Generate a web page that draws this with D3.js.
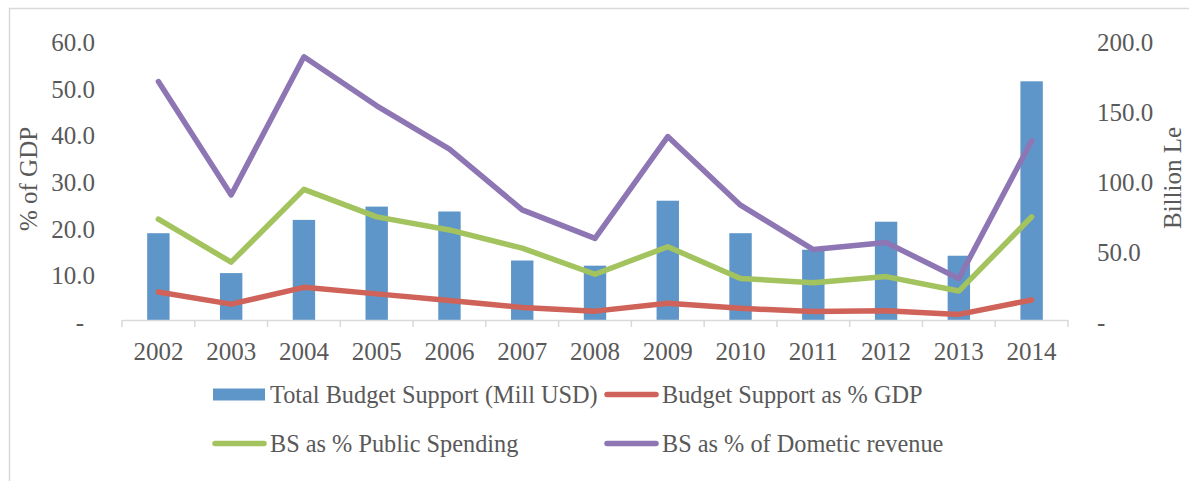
<!DOCTYPE html>
<html><head><meta charset="utf-8">
<script src="https://cdn.jsdelivr.net/npm/d3@7"></script>
<style>
html,body{margin:0;padding:0;background:#fff;}
text{font-family:"Liberation Serif","Times New Roman",serif;fill:#595959;}
</style></head>
<body>
<svg id="chart" width="1189" height="481"></svg>
<script>
const years = ["2002","2003","2004","2005","2006","2007","2008","2009","2010","2011","2012","2013","2014"];
const totalBudgetSupport = [62.0,33.5,71.5,81.0,77.5,42.5,38.8,85.2,62.0,50.2,70.2,45.9,170.5];
const bsPctGDP = [6.0,3.4,7.0,5.6,4.2,2.7,1.9,3.6,2.5,1.8,2.0,1.2,4.3];
const bsPctPublicSpending = [21.6,12.4,28.0,22.1,19.3,15.4,9.8,15.7,8.9,8.0,9.3,6.2,22.1];
const bsPctDomesticRevenue = [51.1,26.8,56.4,45.9,36.6,23.6,17.5,39.3,24.6,15.1,16.6,8.9,38.4];
const leftTicks = [0,10,20,30,40,50,60];
const rightTicks = [0,50,100,150,200];
const legendNames = ["Total Budget Support (Mill USD)","Budget Support as % GDP","BS as % Public Spending","BS as % of Dometic revenue"];

const colors = {bar:"#5f96c9", red:"#cf6359", green:"#a3c35f", purple:"#8d76b3"};
const svg = d3.select("#chart");

// chart border
svg.append("rect").attr("x",9.5).attr("y",8.5).attr("width",1200).attr("height",500)
  .attr("fill","none").attr("stroke","#d9d9d9").attr("stroke-width",1.5);

const x = d3.scaleBand().domain(years).range([122,1068]).padding(0);
const yL = d3.scaleLinear().domain([0,60]).range([320,40]);
const yR = d3.scaleLinear().domain([0,200]).range([320,40]);
const fmt = v => v===0 ? "-" : d3.format(".1f")(v);

// left axis labels
const gl = svg.append("g").attr("transform","translate(95,0)")
  .call(d3.axisLeft(yL).tickValues(leftTicks).tickFormat(fmt).tickSize(0).tickPadding(0));
gl.select(".domain").remove();
gl.selectAll("text").attr("font-size",25).attr("dy","0.38em")
  .attr("x", d => d===0 ? -11 : 0).attr("transform","translate(0,1)");

// right axis labels
const gr = svg.append("g").attr("transform","translate(1097,0)")
  .call(d3.axisRight(yR).tickValues(rightTicks).tickFormat(fmt).tickSize(0).tickPadding(0));
gr.select(".domain").remove();
gr.selectAll("text").attr("font-size",25).attr("dy","0.38em").attr("transform","translate(0,1)");

// bars
const bw = 22.4;
svg.append("g").selectAll("rect").data(totalBudgetSupport).join("rect")
  .attr("x",(d,i)=>x(years[i])+x.bandwidth()/2-bw/2)
  .attr("y",d=>yR(d)).attr("width",bw).attr("height",d=>yR(0)-yR(d))
  .attr("fill",colors.bar);

// x axis
const gx = svg.append("g").attr("transform","translate(0,320)")
  .call(d3.axisBottom(x).tickSize(0).tickPadding(0));
gx.select(".domain").attr("stroke","#d9d9d9").attr("stroke-width",1.5);
gx.selectAll("text").attr("font-size",25).attr("y",40).attr("dy",0);
const bounds = years.map(y=>x(y)).concat([x.range()[1]]);
gx.selectAll(".bt").data(bounds).join("line").attr("class","bt")
  .attr("x1",d=>d).attr("x2",d=>d).attr("y1",0).attr("y2",7)
  .attr("stroke","#d9d9d9").attr("stroke-width",1.5);

// lines
const line = d3.line().x((d,i)=>x(years[i])+x.bandwidth()/2).y(d=>yL(d));
[[bsPctGDP,colors.red],[bsPctPublicSpending,colors.green],[bsPctDomesticRevenue,colors.purple]].forEach(([data,c])=>{
  svg.append("path").datum(data).attr("d",line).attr("fill","none")
    .attr("stroke",c).attr("stroke-width",5.5).attr("stroke-linejoin","round").attr("stroke-linecap","round");
});

// axis titles
svg.append("text").attr("transform","translate(37,179) rotate(-90)").attr("text-anchor","middle")
  .attr("font-size",25).text("% of GDP");
svg.append("text").attr("transform","translate(1181,178) rotate(-90)").attr("text-anchor","middle")
  .attr("font-size",25).text("Billion Le");

// legend
const legendItems = [
  {name:legendNames[0], type:"bar", color:colors.bar, x:213, y:394.5},
  {name:legendNames[1], type:"line", color:colors.red, x:605, y:394.5},
  {name:legendNames[2], type:"line", color:colors.green, x:213, y:443.5},
  {name:legendNames[3], type:"line", color:colors.purple, x:605, y:443.5}
];
const lg = svg.append("g").selectAll("g").data(legendItems).join("g")
  .attr("transform",d=>`translate(${d.x},${d.y})`);
lg.filter(d=>d.type==="bar").append("rect").attr("x",0).attr("y",-6).attr("width",52).attr("height",12).attr("fill",d=>d.color);
lg.filter(d=>d.type==="line").append("line").attr("x1",2).attr("x2",51).attr("y1",0).attr("y2",0)
  .attr("stroke",d=>d.color).attr("stroke-width",5.5).attr("stroke-linecap","round");
lg.append("text").attr("x",57).attr("y",0).attr("dy","0.35em").attr("font-size",24.3).text(d=>d.name);
</script>
</body></html>
